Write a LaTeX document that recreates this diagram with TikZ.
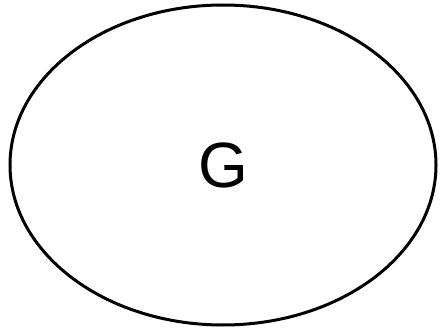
\documentclass[tikz,border=0pt]{standalone}
\usepackage{fontspec}
\setmainfont{Liberation Sans}
\usetikzlibrary{shapes.geometric}
\begin{document}
\begin{tikzpicture}[x=1pt, y=1pt, line width=3pt]
		\tikzset{blob/.style={ellipse, draw, minimum width=426pt, minimum height=320pt, inner sep=0pt, font=\fontsize{64}{70}\selectfont}}
		\useasboundingbox (0,0) rectangle (442,330);
		% the set
		\node[blob] (G) at (223,165) {G};
	\end{tikzpicture}
\end{document}
